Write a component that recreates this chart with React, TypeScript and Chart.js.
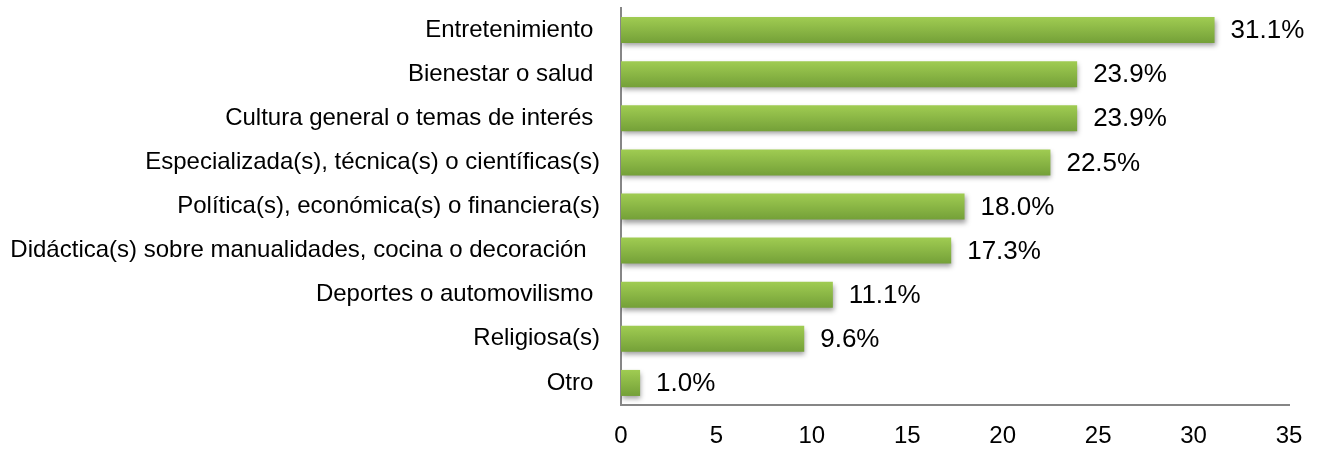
import React, { useEffect, useRef } from "react";
import { Chart, registerables } from "chart.js";

Chart.register(...registerables);

const categories: string[] = [
  "Entretenimiento ",
  "Bienestar o salud ",
  "Cultura general o temas de interés ",
  "Especializada(s), técnica(s) o científicas(s)",
  "Política(s), económica(s) o financiera(s)",
  "Didáctica(s) sobre manualidades, cocina o decoración  ",
  "Deportes o automovilismo ",
  "Religiosa(s)",
  "Otro ",
];

const values: number[] = [31.1, 23.9, 23.9, 22.5, 18.0, 17.3, 11.1, 9.6, 1.0];

const xTicks: number[] = [0, 5, 10, 15, 20, 25, 30, 35];

const FONT = '"Liberation Sans", Arial, sans-serif';

const barStylePlugin = {
  id: "barStyle",
  beforeDatasetsDraw(chart: any) {
    const ctx = chart.ctx;
    const meta = chart.getDatasetMeta(0);
    meta.data.forEach((el: any) => {
      const { y, height } = el.getProps(["y", "height"], true);
      const g = ctx.createLinearGradient(0, y - height / 2, 0, y + height / 2);
      g.addColorStop(0, "#A0CC52");
      g.addColorStop(1, "#74A038");
      el.options = Object.assign({}, el.options, { backgroundColor: g });
    });
    ctx.save();
    ctx.shadowColor = "rgba(0,0,0,0.38)";
    ctx.shadowBlur = 5;
    ctx.shadowOffsetX = 1;
    ctx.shadowOffsetY = 3;
  },
  afterDatasetsDraw(chart: any) {
    const ctx = chart.ctx;
    ctx.restore();
    const meta = chart.getDatasetMeta(0);
    const data = chart.data.datasets[0].data as number[];
    ctx.save();
    ctx.font = `26px ${FONT}`;
    ctx.fillStyle = "#000";
    ctx.textAlign = "left";
    ctx.textBaseline = "middle";
    meta.data.forEach((el: any, i: number) => {
      const { x, y } = el.getProps(["x", "y"], true);
      ctx.fillText(data[i].toFixed(1) + "%", x + 16, y + 1);
    });
    ctx.restore();
  },
};

export default function App() {
  const canvasRef = useRef<HTMLCanvasElement | null>(null);

  useEffect(() => {
    if (!canvasRef.current) return;
    Chart.defaults.font.family = FONT;
    const chart = new Chart(canvasRef.current, {
      type: "bar",
      data: {
        labels: categories,
        datasets: [
          {
            data: values,
            backgroundColor: "#8AB846",
            borderWidth: 0,
            barPercentage: 0.59,
            categoryPercentage: 1,
          },
        ],
      },
      options: {
        indexAxis: "y",
        responsive: false,
        animation: false,
        devicePixelRatio: 1,
        layout: { padding: { top: 8, right: 29, left: 0, bottom: 0 } },
        plugins: {
          legend: { display: false },
          tooltip: { enabled: false },
        },
        scales: {
          x: {
            min: 0,
            max: 35,
            afterBuildTicks: (scale: any) => {
              scale.ticks = xTicks.map((v) => ({ value: v }));
            },
            afterFit: (scale: any) => {
              scale.height = 47;
              scale.paddingLeft = 0;
              scale.paddingRight = 0;
            },
            grid: { display: false, drawTicks: false },
            border: { display: true, color: "#868686", width: 2 },
            ticks: {
              color: "#000",
              font: { size: 24, family: FONT },
              padding: 17,
              maxRotation: 0,
            },
          },
          y: {
            afterFit: (scale: any) => {
              scale.width = 621;
              scale.paddingTop = 0;
              scale.paddingBottom = 0;
            },
            grid: { display: false, drawTicks: false },
            border: { display: true, color: "#868686", width: 2 },
            ticks: {
              color: "#000",
              font: { size: 24, family: FONT },
              padding: 21,
              autoSkip: false,
            },
          },
        },
      },
      plugins: [barStylePlugin],
    });
    return () => chart.destroy();
  }, []);

  return (
    <div style={{ position: "fixed", left: 0, top: 0, width: 1318, height: 452, background: "#fff" }}>
      <canvas ref={canvasRef} width={1318} height={452} />
    </div>
  );
}
